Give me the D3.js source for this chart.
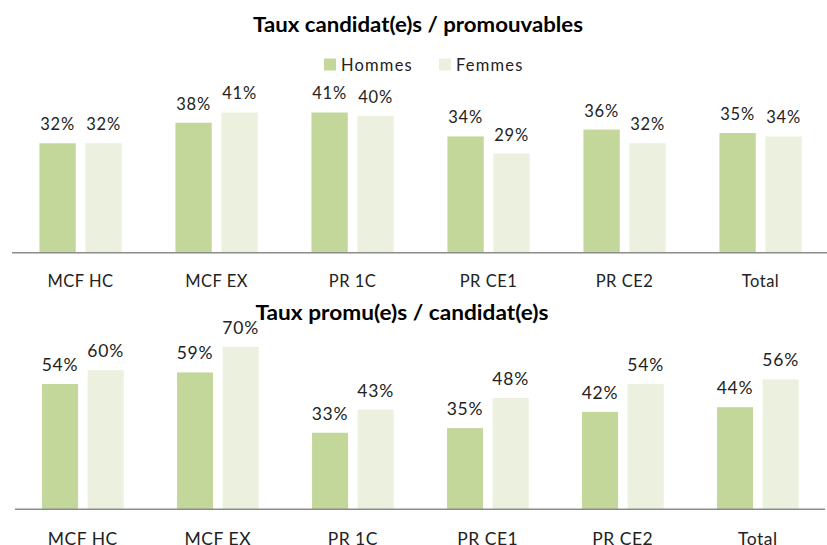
<!DOCTYPE html>
<html>
<head>
<meta charset="utf-8">
<script src="https://cdn.jsdelivr.net/npm/d3@7"></script>
<style>
  body { margin: 0; background: #fff; }
  text { font-family: Lato, "Open Sans", sans-serif; fill: #222; }
  .title { font-weight: bold; fill: #000; }
</style>
</head>
<body>
<div id="graphic"></div>
<script>
var categories = ["MCF HC", "MCF EX", "PR 1C", "PR CE1", "PR CE2", "Total"];
var seriesNames = ["Hommes", "Femmes"];
var seriesColors = ["#c4d79b", "#ebf1de"];

// Taux candidat(e)s / promouvables
var candHommes = [0.32, 0.38, 0.41, 0.34, 0.36, 0.35];
var candFemmes = [0.32, 0.41, 0.40, 0.29, 0.32, 0.34];

// Taux promu(e)s / candidat(e)s
var promHommes = [0.54, 0.59, 0.33, 0.35, 0.42, 0.44];
var promFemmes = [0.60, 0.70, 0.43, 0.48, 0.54, 0.56];

var width = 827;
var height = 545;
var svg;

function renderLayout() {
  svg = d3.select("#graphic")
    .append("svg")
    .attr("width", width)
    .attr("height", height);
}

function toRows(hommes, femmes) {
  return categories.map((c, i) => ({ cat: c, values: [hommes[i], femmes[i]] }));
}

function renderPanel(p) {
  var data = toRows(p.hommes, p.femmes);

  var xScale = d3.scaleBand()
    .domain(categories)
    .range([p.left, p.right]);

  var step = xScale.bandwidth();
  var xInner = d3.scaleBand()
    .domain(seriesNames)
    .range([step * 0.198, step * 0.803])
    .paddingInner(0.21);

  var yScale = d3.scaleLinear()
    .domain([0, p.yMax])
    .range([p.base, p.top]);

  var g = svg.append("g");

  var groups = g.selectAll("g.cat")
    .data(data)
    .join("g")
    .attr("class", "cat")
    .attr("transform", d => "translate(" + xScale(d.cat) + ",0)");

  groups.selectAll("rect")
    .data(d => d.values.map((v, i) => ({ key: seriesNames[i], v: v, i: i })))
    .join("rect")
    .attr("x", d => xInner(d.key))
    .attr("width", xInner.bandwidth())
    .attr("y", d => yScale(d.v))
    .attr("height", d => yScale(0) - yScale(d.v))
    .attr("fill", d => seriesColors[d.i]);

  groups.selectAll("text.value")
    .data(d => d.values.map((v, i) => ({ key: seriesNames[i], v: v })))
    .join("text")
    .attr("class", "value")
    .attr("x", d => xInner(d.key) + xInner.bandwidth() / 2)
    .attr("y", d => yScale(d.v) - 13)
    .attr("text-anchor", "middle")
    .style("font-size", p.fontSize + "px")
    .style("letter-spacing", "0.8px")
    .text(d => d3.format(".0%")(d.v));

  // category axis
  var axis = g.append("g")
    .attr("transform", "translate(0," + p.base + ")")
    .call(d3.axisBottom(xScale).tickSize(0).tickPadding(0));
  axis.select(".domain")
    .attr("d", "M" + p.lineStart + ",0H" + p.lineEnd)
    .attr("stroke", "#8c8c8c")
    .attr("stroke-width", 1.5);
  axis.selectAll(".tick text")
    .attr("dy", null)
    .attr("y", p.labelY)
    .style("font-family", "Lato, 'Open Sans', sans-serif")
    .style("font-size", p.fontSize + "px")
    .style("letter-spacing", "0.5px")
    .style("fill", "#222");

  g.append("text")
    .attr("class", "title")
    .attr("x", p.titleX)
    .attr("y", p.titleY)
    .attr("text-anchor", "middle")
    .attr("textLength", p.titleLen)
    .attr("lengthAdjust", "spacingAndGlyphs")
    .style("font-size", "21px")
    .text(p.title);
}

function renderLegend() {
  var legend = svg.append("g")
    .selectAll("g")
    .data(seriesNames)
    .join("g")
    .attr("transform", (d, i) => "translate(" + [324, 439][i] + ",58.5)");

  legend.append("rect")
    .attr("width", 12)
    .attr("height", 12)
    .attr("fill", (d, i) => seriesColors[i]);

  legend.append("text")
    .attr("x", 17)
    .attr("y", 12)
    .style("font-size", "16.5px")
    .style("letter-spacing", "1.2px")
    .text(d => d);
}

renderLayout();

renderPanel({
  title: "Taux candidat(e)s / promouvables",
  titleX: 418, titleY: 32, titleLen: 330,
  hommes: candHommes, femmes: candFemmes,
  left: 12.5, right: 828.5, lineStart: 12, lineEnd: 827,
  base: 252.7, top: 81.7, yMax: 0.5,
  fontSize: 16.5, labelY: 34.3
});

renderPanel({
  title: "Taux promu(e)s / candidat(e)s",
  titleX: 402, titleY: 320, titleLen: 293,
  hommes: promHommes, femmes: promFemmes,
  left: 15.3, right: 825.3, lineStart: 15, lineEnd: 825,
  base: 509.3, top: 323.7, yMax: 0.8,
  fontSize: 17.5, labelY: 35.5
});

renderLegend();
</script>
</body>
</html>
